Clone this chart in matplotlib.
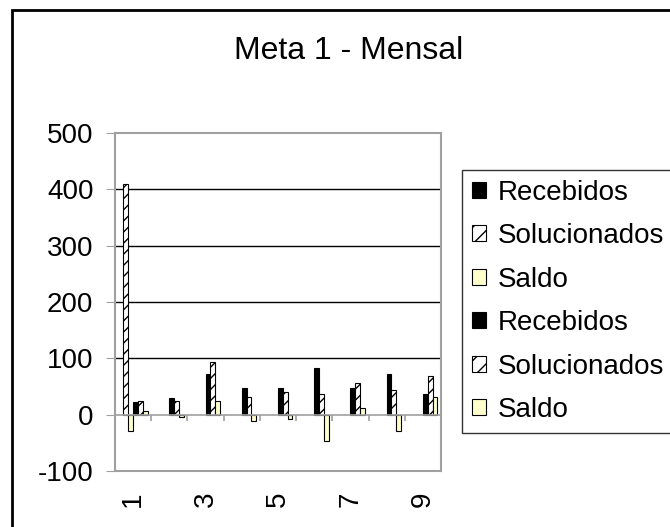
import matplotlib.pyplot as plt
import matplotlib.patches as mpatches
import numpy as np

plt.rcParams['font.family'] = ['Liberation Sans', 'DejaVu Sans']
plt.rcParams['hatch.color'] = '#404040'
plt.rcParams['hatch.linewidth'] = 1.0

# categories (months)
meses = [1, 2, 3, 4, 5, 6, 7, 8, 9]
tick_labels = ['1', '', '3', '', '5', '', '7', '', '9']

# first block of series (only month 1 has values)
recebidos_a = [0, 0, 0, 0, 0, 0, 0, 0, 0]
solucionados_a = [410, 0, 0, 0, 0, 0, 0, 0, 0]
saldo_a = [-29, 0, 0, 0, 0, 0, 0, 0, 0]

# second block of series
recebidos_b = [23, 30, 73, 47, 47, 83, 47, 73, 37]
solucionados_b = [25, 25, 93, 32, 40, 36, 57, 43, 68]
saldo_b = [7, -4, 25, -11, -8, -47, 11, -29, 32]

series = [
    ('Recebidos', recebidos_a),
    ('Solucionados', solucionados_a),
    ('Saldo', saldo_a),
    ('Recebidos', recebidos_b),
    ('Solucionados', solucionados_b),
    ('Saldo', saldo_b),
]

estilos = {
    'Recebidos': dict(facecolor='black', edgecolor='black', hatch=None),
    'Solucionados': dict(facecolor='white', edgecolor='black', hatch='///'),
    'Saldo': dict(facecolor='#FFFFCC', edgecolor='black', hatch=None),
}

fig = plt.figure(figsize=(6.7, 5.27), dpi=100)
ax = fig.add_axes([115 / 670, 1 - 471 / 527, 326 / 670, 338 / 527])

x = np.arange(len(meses))
n = len(series)
w = 1.0 / (n + 1.5)
handles = []
for i, (nome, vals) in enumerate(series):
    st = estilos[nome]
    pos = x + (i - (n - 1) / 2) * w
    vals = np.array(vals, dtype=float)
    mask = vals != 0
    ax.bar(pos[mask], vals[mask], width=w, facecolor=st['facecolor'],
           edgecolor=st['edgecolor'], hatch=st['hatch'], linewidth=0.8)
    handles.append(mpatches.Patch(facecolor=st['facecolor'], edgecolor=st['edgecolor'],
                                  hatch='//' if st['hatch'] else None, linewidth=0.8,
                                  label=nome))

ax.set_xlim(-0.5, len(meses) - 0.5)
ax.set_ylim(-100, 500)
ax.set_yticks(range(-100, 501, 100))
ax.set_yticklabels([str(v) for v in range(-100, 501, 100)], fontsize=20)
for g in range(100, 500, 100):
    ax.axhline(g, color='black', linewidth=1.0, zorder=0)

ax.set_xticks(x)
ax.set_xticklabels(tick_labels, rotation=90, fontsize=20)
ax.tick_params(axis='x', length=0, pad=15)
ax.tick_params(axis='y', length=6.5, color='#a0a0a0', pad=9)

# zero line with category ticks
ax.axhline(0, color='#a0a0a0', linewidth=1.2, zorder=3)
ax.vlines(np.arange(len(meses) + 1) - 0.5, -11, 0, color='#a0a0a0', linewidth=1.2, zorder=3)

for sp in ax.spines.values():
    sp.set_color('#a0a0a0')
    sp.set_linewidth(1.5)

fig.text(349 / 670, 1 - 51 / 527, 'Meta 1 - Mensal', fontsize=23, ha='center', va='center')

leg = fig.legend(handles=handles, loc='upper left', bbox_to_anchor=(462 / 670, 1 - 170 / 527),
                 fontsize=20, frameon=True, fancybox=False, edgecolor='black',
                 handlelength=0.5, handleheight=0.5, handletextpad=0.45,
                 labelspacing=0.63, borderpad=0.35, borderaxespad=0)
leg.get_frame().set_linewidth(1.0)

# outer chart border
fig.patches.append(mpatches.Rectangle((12 / 670, -0.1), 1.0, 1 - 10 / 527 + 0.1,
                                      transform=fig.transFigure, fill=False,
                                      edgecolor='black', linewidth=2))

fig.savefig('out.png', dpi=100)
